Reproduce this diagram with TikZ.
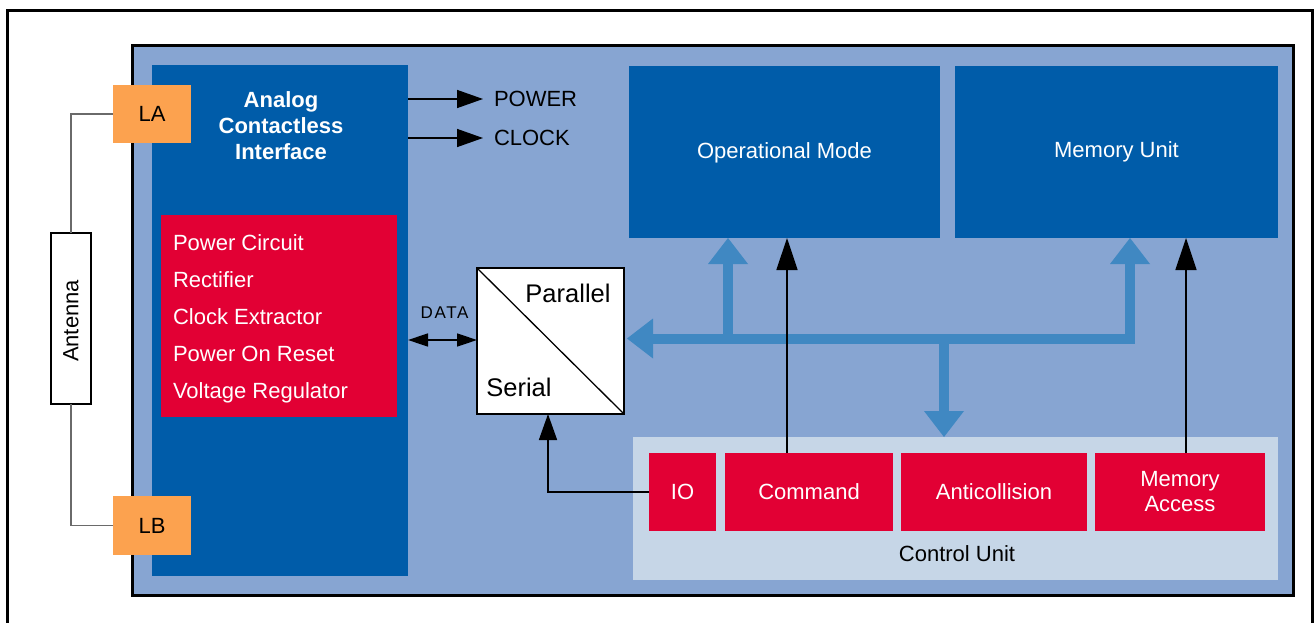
\documentclass[tikz,border=0pt]{standalone}
\usepackage{fontspec}
\setmainfont{Liberation Sans}
\usetikzlibrary{arrows.meta}
\definecolor{chipbg}{HTML}{87A5D2}
\definecolor{dblue}{HTML}{005CA9}
\definecolor{busblue}{HTML}{4088C2}
\definecolor{cred}{HTML}{E20034}
\definecolor{corange}{HTML}{FCA24F}
\definecolor{ctrlbg}{HTML}{C6D6E7}
\definecolor{wiregray}{HTML}{6A6A6A}
\tikzset{
  every node/.style={inner sep=0pt, outer sep=0pt},
  sz/.style 2 args={rectangle, minimum width=#1pt, minimum height=#2pt},
  tx/.style={font=\fontsize{22}{26}\selectfont},
  txw/.style={tx, text=white},
  redbox/.style={fill=cred},
  bluebox/.style={fill=dblue},
  padbox/.style={fill=corange},
  bigtip/.tip={Triangle[length=32pt,width=21pt]},
  midtip/.tip={Triangle[length=26pt,width=18pt]},
  smalltip/.tip={Triangle[length=20pt,width=13pt]},
  bustip/.tip={Triangle[length=26pt,width=40pt,line width=0pt]},
  blk/.style={draw=black, line width=1.5pt},
  bus/.style={draw=busblue, line width=10pt, line join=miter},
  wire/.style={draw=wiregray, line width=1.2pt},
}
\begin{document}
\begin{tikzpicture}[x=1pt,y=-1pt, line join=miter]
\path[use as bounding box] (0,0) rectangle (1314,623);
\clip (0,0) rectangle (1314,623);
\draw[line width=3pt] (7,650) -- (7,11) -- (1312.5,11) -- (1312.5,650);

% chip
\node[draw=black, line width=3pt, fill=chipbg, sz={1161}{549}] (chip) at (712.5,320.5) {};

% analog interface
\node[bluebox, sz={256}{511}] (analog) at (280,320.5) {};
\node[txw, font=\fontsize{22}{26}\selectfont\bfseries, align=center] (analogtitle) at (281,126) {Analog\\Contactless\\Interface};
\node[redbox, sz={236}{202}] (redlist) at (279,316) {};
\node[txw, anchor=west, align=left, font=\fontsize{22}{37}\selectfont] (redtext) at (173,318.5)
  {Power Circuit\\Rectifier\\Clock Extractor\\Power On Reset\\Voltage Regulator};

% pads and antenna
\node[padbox, sz={78}{58}, tx] (LA) at (152,114) {LA};
\node[padbox, sz={78}{59}, tx] (LB) at (152,525.5) {LB};
\node[draw=black, line width=1.3pt, fill=white, sz={40}{171}] (ant) at (71,318.5) {};
\node[tx, rotate=90] (anttxt) at (71,321) {Antenna};
\draw[wire] (LA.west) -| (ant.north);
\draw[wire] (ant.south) |- (LB.west);

% power / clock
\node[tx, anchor=west] (power) at (494,99) {POWER};
\node[tx, anchor=west] (clock) at (494,138) {CLOCK};
\draw[blk, -{midtip}] (analog.east |- power.west) -- ([xshift=-11pt]power.west);
\draw[blk, -{midtip}] (analog.east |- clock.west) -- ([xshift=-11pt]clock.west);

% serial / parallel
\node[draw=black, line width=1.5pt, fill=white, sz={147}{146}] (sp) at (550.5,341) {};
\draw[line width=1.3pt] (sp.north west) -- (sp.south east);
\node[font=\fontsize{25.5}{28}\selectfont] (partxt) at (568,293) {Parallel};
\node[font=\fontsize{25.5}{28}\selectfont] (sertxt) at (519,387) {Serial};

% DATA
\coordinate (dy) at (0,340);
\node[font=\fontsize{17}{20}\selectfont\addfontfeature{LetterSpace=10}] (datatxt) at (444.5,313) {DATA};
\draw[blk, {smalltip}-{smalltip}] (analog.east |- dy) -- (sp.west |- dy);

% operational mode and memory
\node[bluebox, sz={311}{172}] (opmode) at (784.5,152) {};
\node[txw] (opmodetxt) at (784.5,153) {Operational Mode};
\node[bluebox, sz={323}{172}, txw] (mem) at (1116.5,152) {Memory Unit};

% control unit
\node[fill=ctrlbg, sz={645}{143}] (ctrl) at (955.5,508.5) {};
\node[tx] (ctrltxt) at (957,554) {Control Unit};
\node[redbox, sz={67}{78}, txw] (io) at (682.5,492) {IO};
\node[redbox, sz={168}{78}, txw] (cmd) at (809,492) {Command};
\node[redbox, sz={186}{78}, txw] (anti) at (994,492) {Anticollision};
\node[redbox, sz={170}{78}, txw, align=center, font=\fontsize{22}{25}\selectfont] (macc) at (1180,492) {Memory\\Access};

% bus
\coordinate (busY) at (0,338.5);
\path (sp.east |- busY) ++(3,0) coordinate (busL);
\coordinate (busR) at (1130,338.5);
\coordinate (b1) at (728,338.5);
\coordinate (b2) at (944,338.5);
\draw[bus, {bustip}-{bustip}] (busL) -- (busR) -- (busR |- mem.south);
\draw[bus, -{bustip}] (b1) -- (b1 |- opmode.south);
\draw[bus, -{bustip}] (b2) -- (b2 |- ctrl.north);

% black control arrows
\coordinate (c1) at (787,0);
\coordinate (c2) at (1186,0);
\coordinate (c3) at (548,0);
\draw[blk, -{bigtip}] (cmd.north -| c1) -- (opmode.south -| c1);
\draw[blk, -{bigtip}] (macc.north -| c2) -- (mem.south -| c2);
\draw[blk, -{midtip}] (io.west) -| (c3 |- sp.south);
\end{tikzpicture}
\end{document}
